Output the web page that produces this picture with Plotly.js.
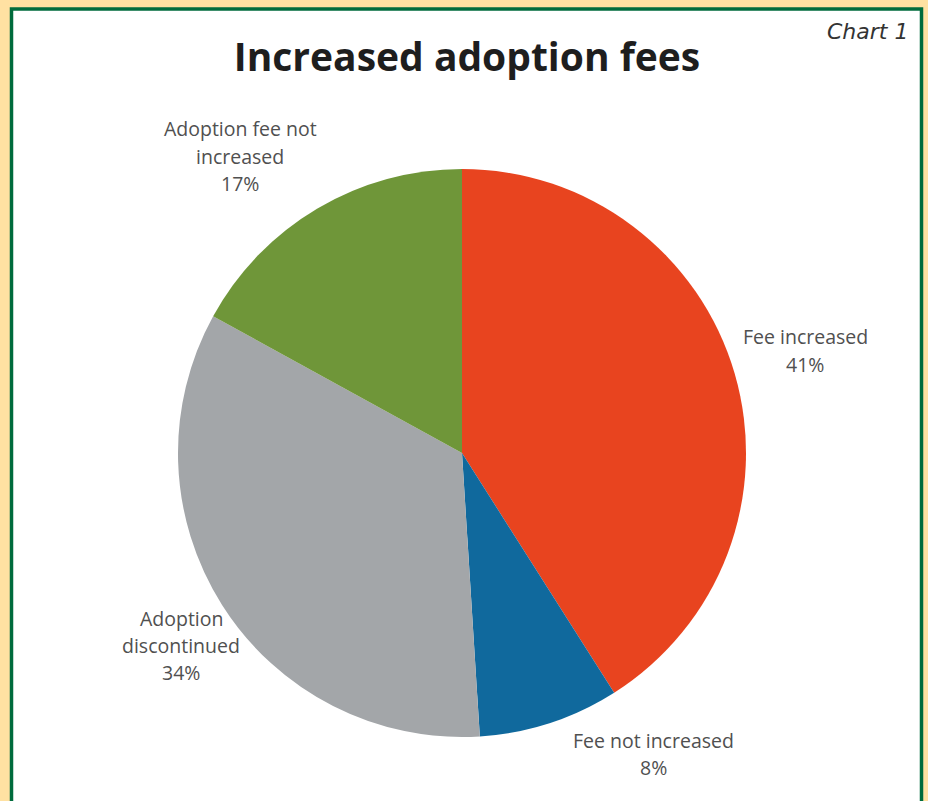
<!DOCTYPE html>
<html>
<head>
<meta charset="utf-8">
<script src="https://cdn.plot.ly/plotly-3.0.1.min.js"></script>
<style>html,body{margin:0;padding:0;background:#FFE1A2;}#chart{width:928px;height:801px;}</style>
</head>
<body>
<div id="chart"></div>
<script>
const categories = ["Fee increased", "Fee not increased", "Adoption<br>discontinued", "Adoption fee not<br>increased"];
const values = [41, 8, 34, 17];
const colors = ["#E8441F", "#10699D", "#A3A6A9", "#6F9639"];
// label anchor positions (pixels from top-left)
const labelPos = [[805, 337], [653, 740], [181, 618], [240, 129]];

const W = 928, H = 801;
const cx = 462, cy = 453, r = 284;
const LINE = 27;

const annotations = [];
categories.forEach((c, i) => {
  const lines = c.split("<br>").concat([values[i] + "%"]);
  lines.forEach((t, j) => {
    annotations.push({
      text: t, xref: "paper", yref: "paper",
      x: labelPos[i][0] / W, y: 1 - (labelPos[i][1] + j * LINE) / H,
      xanchor: "center", yanchor: "middle", showarrow: false,
      font: {family: "Open Sans, sans-serif", size: 19.5, color: "#505050"}
    });
  });
});
annotations.push({
  text: "<i>Chart 1</i>", xref: "paper", yref: "paper",
  x: 910 / W, y: 1 - 32 / H, xanchor: "right", yanchor: "middle", showarrow: false,
  font: {family: "DejaVu Sans, sans-serif", size: 22, color: "#333"}
});

const data = [{
  type: "pie",
  values: values,
  labels: categories,
  sort: false,
  direction: "clockwise",
  rotation: 0,
  textinfo: "none",
  hoverinfo: "skip",
  marker: {colors: colors, line: {color: "rgba(0,0,0,0)", width: 0}},
  domain: {x: [(cx - r) / W, (cx + r) / W], y: [(H - cy - r) / H, (H - cy + r) / H]},
  showlegend: false
}];

const layout = {
  width: W, height: H,
  margin: {l: 0, r: 0, t: 0, b: 0},
  paper_bgcolor: "#FFE1A2",
  showlegend: false,
  title: {text: "<b>Increased adoption fees</b>", x: 467 / W, xanchor: "center", y: 1 - 57 / H, yanchor: "middle",
    font: {family: "Open Sans, sans-serif", size: 39, color: "#1e1e1e"}},
  shapes: [{
    type: "rect", xref: "paper", yref: "paper", layer: "below",
    x0: 11.5 / W, x1: 921.5 / W, y0: -0.05, y1: 1 - 9 / H,
    fillcolor: "#FFFFFF", line: {color: "#006B3C", width: 3.5}
  }],
  annotations: annotations
};

Plotly.newPlot("chart", data, layout, {displayModeBar: false, staticPlot: true});
</script>
</body>
</html>
